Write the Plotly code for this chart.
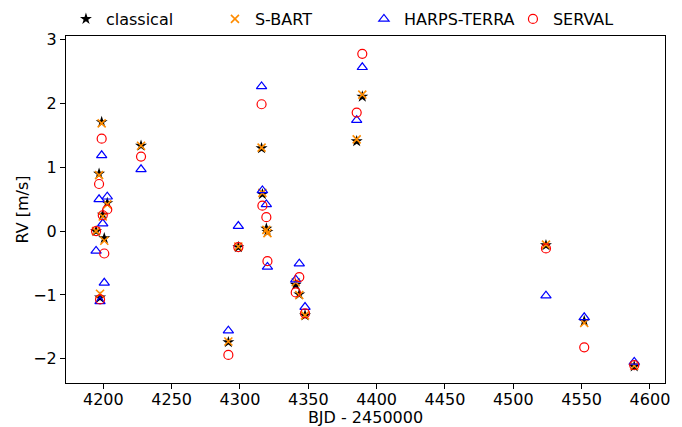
import plotly.graph_objects as go

# Epochs (BJD - 2450000) and RVs [m/s] for the four pipelines
bjd = [4194.7, 4196.9, 4197.6, 4198.8, 4199.6, 4200.7, 4202.9, 4227.6,
       4291.5, 4298.8, 4315.8, 4316.4, 4319.3, 4320.1,
       4340.8, 4343.4, 4347.6, 4385.4, 4389.5,
       4523.9, 4551.9, 4588.5]

rv_classical = [0.00, 0.90, -1.04, 1.71, 0.26, -0.11, 0.44, 1.34,
                -1.74, -0.25, 1.30, 0.58, 0.04, -0.01,
                -0.84, -0.99, -1.32, 1.41, 2.11,
                -0.22, -1.41, -2.12]
rv_sbart = [0.00, 0.88, -0.98, 1.69, 0.23, -0.15, 0.42, 1.34,
            -1.73, -0.24, 1.31, 0.60, 0.02, -0.03,
            -0.80, -1.00, -1.32, 1.44, 2.14,
            -0.21, -1.44, -2.11]
rv_terra = [-0.31, 0.50, -1.10, 1.19, 0.12, -0.81, 0.54, 0.97,
            -1.56, 0.08, 2.27, 0.64, 0.42, -0.56,
            -0.76, -0.51, -1.19, 1.74, 2.57,
            -1.01, -1.35, -2.05]
rv_serval = [0.00, 0.74, -1.07, 1.45, 0.25, -0.35, 0.34, 1.17,
             -1.94, -0.25, 1.99, 0.40, 0.22, -0.47,
             -0.96, -0.72, -1.29, 1.86, 2.78,
             -0.27, -1.82, -2.10]

FONT = dict(family="DejaVu Sans, sans-serif", size=16, color="black")

series = [
    ("classical", rv_classical, dict(symbol="star", size=9, color="black", line=dict(width=0))),
    ("S-BART", rv_sbart, dict(symbol="x-thin", size=8, color="darkorange", line=dict(width=1.6, color="darkorange"))),
    ("HARPS-TERRA", rv_terra, dict(symbol="triangle-up-open", size=9, color="blue", line=dict(width=1.2))),
    ("SERVAL", rv_serval, dict(symbol="circle-open", size=9, color="red", line=dict(width=1.2))),
]

fig = go.Figure()
for name, rv, marker in series:
    fig.add_trace(go.Scatter(x=bjd, y=rv, mode="markers", name=name, marker=marker))

axis_style = dict(showgrid=False, zeroline=False, showline=True, mirror=True,
                  linecolor="black", linewidth=1, ticks="outside", ticklen=5,
                  tickcolor="black", tickfont=FONT, title_font=FONT)

fig.update_layout(
    width=682, height=427,
    paper_bgcolor="white", plot_bgcolor="white",
    font=FONT,
    margin=dict(l=66, r=17, t=36, b=44, autoexpand=False),
    showlegend=True,
    # x just below 0 so the legend may use the left margin and stay on one row
    legend=dict(orientation="h", x=-0.0001, y=1.0, xanchor="left", yanchor="bottom",
                entrywidth=104, entrywidthmode="pixels", font=FONT,
                bgcolor="rgba(0,0,0,0)", itemsizing="trace"),
)
fig.update_xaxes(**axis_style, range=[4172.7, 4611], dtick=50, tick0=4200,
                 ticklabelstandoff=-3,
                 title=dict(text="BJD - 2450000", standoff=6))
fig.update_yaxes(**axis_style, range=[-2.38, 3.06], dtick=1,
                 title=dict(text="RV [m/s]", standoff=0))

# drop the browser's default body margin so the figure fills the window
fig.write_html("out.html", config={"displayModeBar": False},
               post_script="document.body.style.margin='0';document.body.style.overflow='hidden';")
